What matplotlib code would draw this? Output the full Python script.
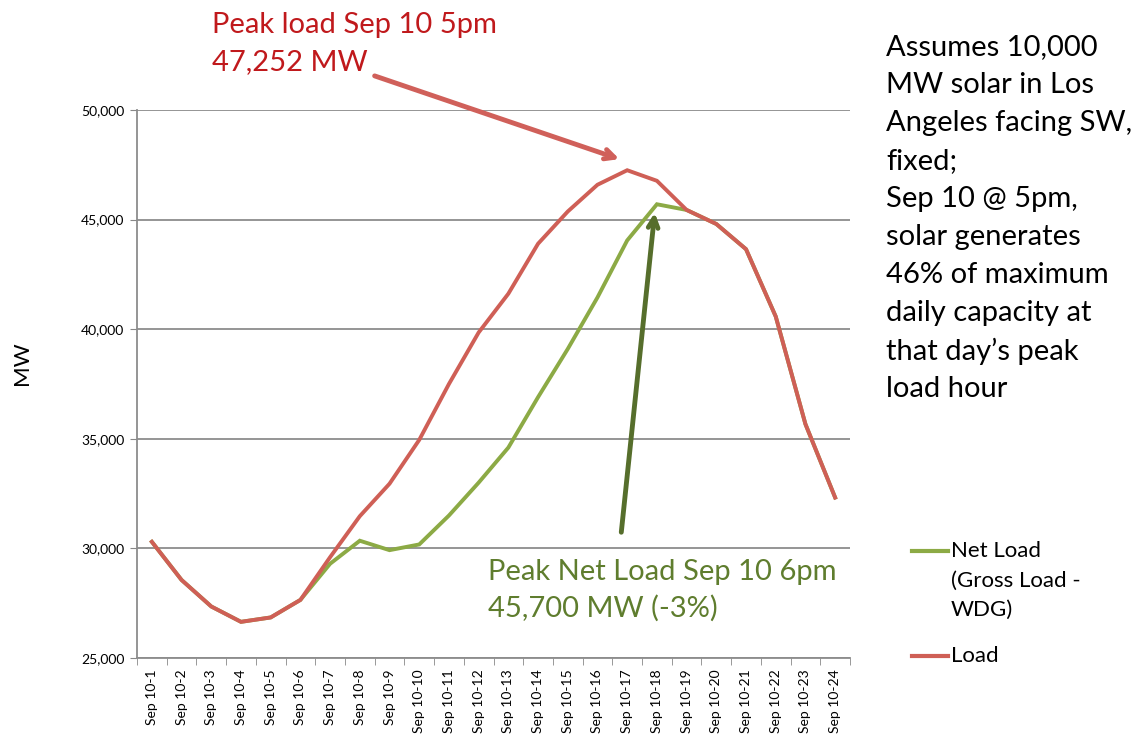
import matplotlib
matplotlib.use("Agg")
import matplotlib.pyplot as plt
from matplotlib.lines import Line2D

plt.rcParams['font.family'] = ['Lato', 'DejaVu Sans']

hours = [f"Sep 10-{i}" for i in range(1, 25)]
load = [30300, 28560, 27350, 26650, 26850, 27650, 29600, 31470, 32950, 34950,
        37500, 39850, 41620, 43900, 45370, 46590, 47252, 46770, 45440, 44800,
        43650, 40580, 35670, 32320]
net_load = [30300, 28560, 27350, 26650, 26850, 27650, 29300, 30350, 29920, 30180,
            31500, 33000, 34600, 36900, 39100, 41450, 44050, 45700, 45440, 44800,
            43650, 40580, 35670, 32320]
yticks = [25000, 30000, 35000, 40000, 45000, 50000]

peak_text = ['Peak load Sep 10 5pm', '47,252 MW']
net_text = ['Peak Net Load Sep 10 6pm', '45,700 MW (-3%)']
note_text = ['Assumes 10,000', 'MW solar in Los', 'Angeles facing SW,', 'fixed;',
             'Sep 10 @ 5pm,', 'solar generates', '46% of maximum',
             'daily capacity at', 'that day\u2019s peak', 'load hour']
legend_net = ['Net Load', '(Gross Load -', 'WDG)']

RED = '#CF5F56'
GREEN = '#8CAA45'
W, H = 1135, 740

fig = plt.figure(figsize=(11.35, 7.4), dpi=100)
ax = fig.add_axes([137/W, 1-658/H, (850-137)/W, (658-110)/H])

x = list(range(len(hours)))
ax.plot(x, net_load, color=GREEN, lw=2.8, solid_joinstyle='miter', zorder=3)
ax.plot(x, load, color=RED, lw=2.8, solid_joinstyle='miter', zorder=4)

ax.set_xlim(-0.5, len(hours) - 0.5)
ax.set_ylim(25000, 50000)
ax.set_yticks(yticks)
ax.set_yticklabels([f"{v:,}" for v in yticks], fontsize=10)
ax.set_xticks(x)
ax.set_xticklabels(hours, rotation=90, fontsize=10)
ax.set_xticks([i - 0.5 for i in range(len(hours) + 1)], minor=True)
ax.tick_params(axis='x', which='major', length=0, pad=8)
ax.tick_params(axis='x', which='minor', length=5, color='#888888', direction='out')
ax.tick_params(axis='y', length=5, color='#888888', direction='out', pad=4)
ax.grid(axis='y', color='#8C8C8C', lw=1.3)
ax.set_axisbelow(True)
for s in ['top', 'right']:
    ax.spines[s].set_visible(False)
for s in ['left', 'bottom']:
    ax.spines[s].set_color('#8C8C8C')
    ax.spines[s].set_linewidth(1.3)

fig.text(22/W, 1-363/H, 'MW', rotation=90, fontsize=16, va='center', ha='center')


def lines(xpx, ypx0, step, texts, **kw):
    for i, t in enumerate(texts):
        fig.text(xpx/W, 1-(ypx0 + i*step)/H, t, va='center', ha='left', **kw)


lines(212, 25, 37, peak_text, color='#C0191C', fontsize=21)
lines(488, 572, 36, net_text, color='#5F7D2E', fontsize=21)
lines(886, 47, 38, note_text, color='black', fontsize=21)

ax.annotate('', xy=(622, H-160), xycoords='figure pixels',
            xytext=(372, H-75), textcoords='figure pixels',
            arrowprops=dict(arrowstyle='->,head_length=0.7,head_width=0.35',
                            color='#D0605A', lw=3.5))
ax.annotate('', xy=(655, H-210), xycoords='figure pixels',
            xytext=(621, H-535), textcoords='figure pixels',
            arrowprops=dict(arrowstyle='->,head_length=0.7,head_width=0.35',
                            color='#566E2C', lw=3.5))

# legend (manual)
fig.add_artist(Line2D([912/W, 948/W], [1-551/H, 1-551/H], color=GREEN, lw=3))
lines(951, 551, 29.5, legend_net, color='black', fontsize=16)
fig.add_artist(Line2D([912/W, 948/W], [1-656/H, 1-656/H], color=RED, lw=3))
lines(951, 656, 0, ['Load'], color='black', fontsize=16)

fig.savefig('out.png', dpi=100)
